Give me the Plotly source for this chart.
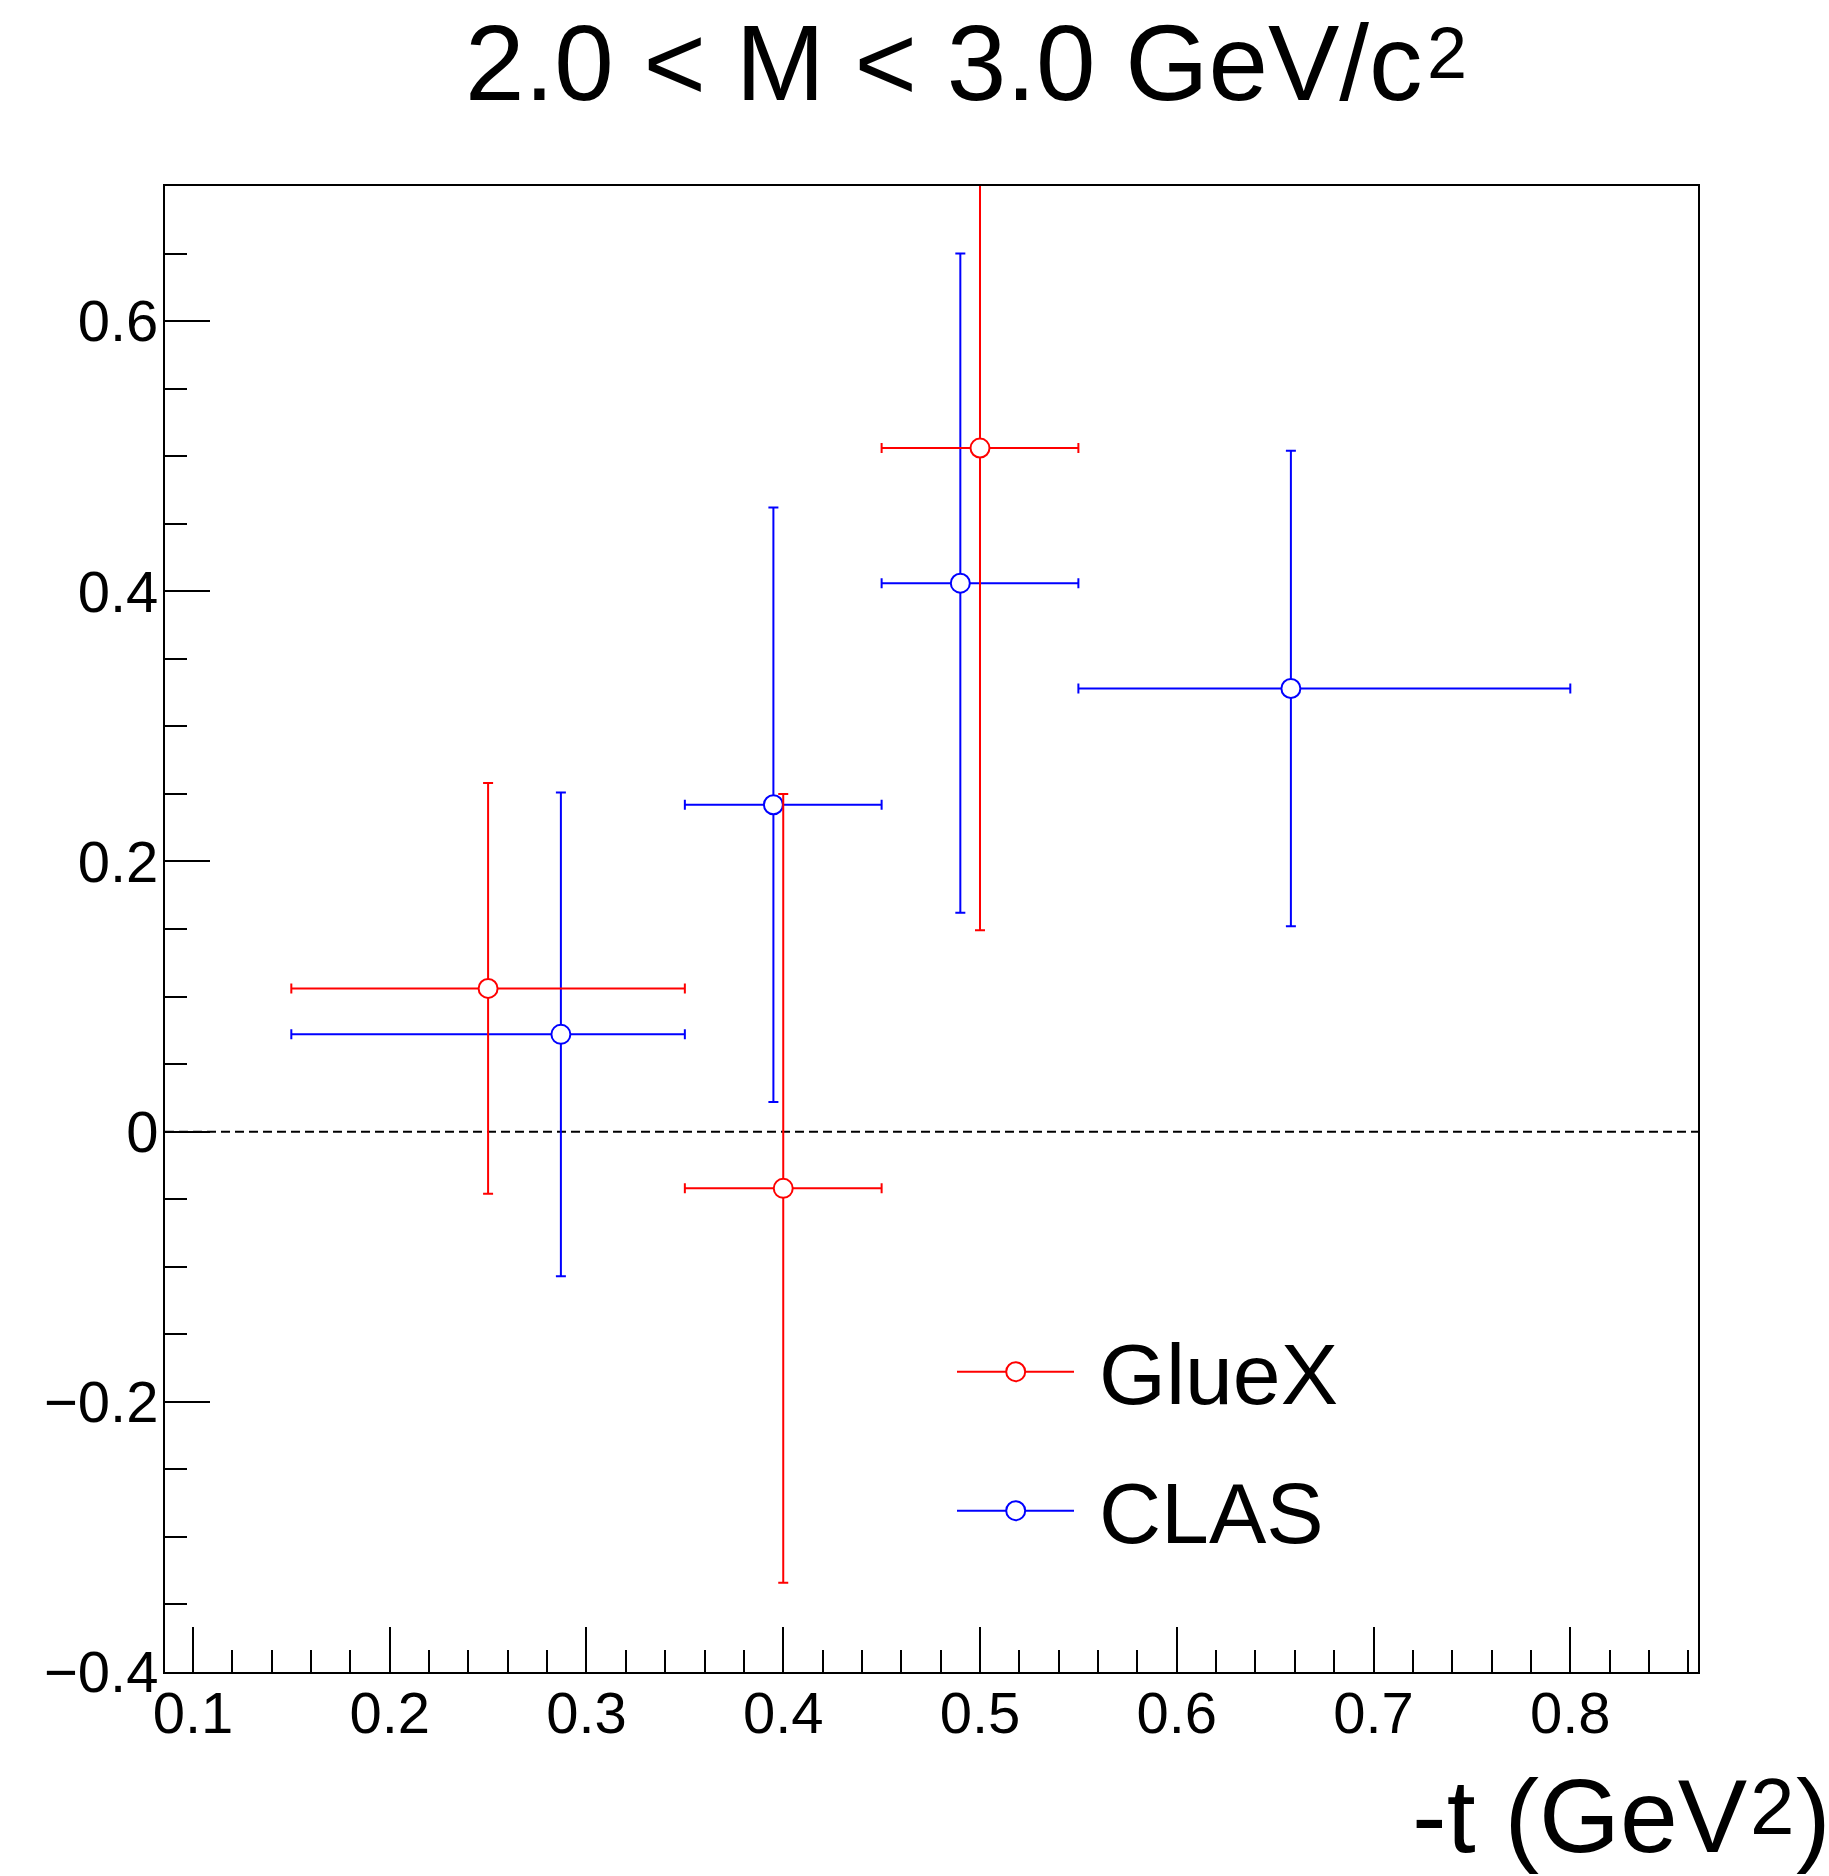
import plotly.graph_objects as go

# ---- data -------------------------------------------------------------
# GlueX: bin centres, bin edges and asymmetry values with statistical errors
gluex_t = [0.25, 0.40, 0.50]
gluex_t_lo = [0.15, 0.35, 0.45]
gluex_t_hi = [0.35, 0.45, 0.55]
gluex_val = [0.106, -0.042, 0.506]
gluex_err = [0.152, 0.292, 0.357]

# CLAS: mean -t inside each bin, bin edges, values and errors
clas_t = [0.287, 0.395, 0.490, 0.658]
clas_t_lo = [0.15, 0.35, 0.45, 0.55]
clas_t_hi = [0.35, 0.45, 0.55, 0.80]
clas_val = [0.072, 0.242, 0.406, 0.328]
clas_err = [0.179, 0.220, 0.244, 0.176]

series_names = ["GlueX", "CLAS"]
series_colors = ["#ff0000", "#0000ff"]

x_range = [0.0858, 0.8649]
y_range = [-0.4, 0.7]
x_ticks = [0.1, 0.2, 0.3, 0.4, 0.5, 0.6, 0.7, 0.8]
y_ticks = [-0.4, -0.2, 0.0, 0.2, 0.4, 0.6]

# title and x-axis title, split so the exponent can be set as a large
# ROOT-style superscript whose top lines up with the capitals
title_main, title_exp = "2.0 < M < 3.0 GeV/c", "2"
xtitle_main, xtitle_exp, xtitle_close = "-t (GeV", "2", ")"

# ---- page geometry ----------------------------------------------------
W, H = 1829, 1876
ML, MR, MT, MB = 165, 131, 186, 204
PW, PH = W - ML - MR, H - MT - MB
FONT = "Liberation Sans, Arial, Helvetica, sans-serif"


def px(xp):
    return (xp - ML) / PW


def py(yp):
    return (H - MB - yp) / PH


def err_trace(t, lo, hi, val, err, color, name):
    return go.Scatter(
        x=t, y=val, mode="markers", name=name, showlegend=False,
        marker=dict(symbol="circle", size=19, color="white",
                    line=dict(color=color, width=2)),
        error_x=dict(type="data", symmetric=False,
                     array=[h - c for h, c in zip(hi, t)],
                     arrayminus=[c - l for c, l in zip(t, lo)],
                     color=color, thickness=2, width=5),
        error_y=dict(type="data", array=err, color=color,
                     thickness=2, width=5),
        cliponaxis=True,
    )


fig = go.Figure()
fig.add_trace(err_trace(clas_t, clas_t_lo, clas_t_hi, clas_val, clas_err,
                        series_colors[1], series_names[1]))
fig.add_trace(err_trace(gluex_t, gluex_t_lo, gluex_t_hi, gluex_val, gluex_err,
                        series_colors[0], series_names[0]))

shapes = []
# dashed zero line
shapes.append(dict(type="line", xref="paper", yref="y", x0=0, x1=1, y0=0, y1=0,
                   line=dict(color="black", width=2, dash="9px,5px"),
                   layer="below"))

# hand-drawn legend: line + open circle + label
legend_rows = [1371.7, 1510.7]
for name, color, yrow in zip(series_names, series_colors, legend_rows):
    shapes.append(dict(type="line", xref="paper", yref="paper",
                       x0=px(957), x1=px(1074), y0=py(yrow), y1=py(yrow),
                       line=dict(color=color, width=2)))
    shapes.append(dict(type="circle", xref="paper", yref="paper",
                       xsizemode="pixel", ysizemode="pixel",
                       xanchor=px(1015.7), yanchor=py(yrow),
                       x0=-9.5, x1=9.5, y0=-9.5, y1=9.5,
                       fillcolor="white", line=dict(color=color, width=2)))


def label(text, x, y, size, xanchor):
    return dict(text=text, xref="paper", yref="paper", x=px(x), y=py(y),
                xanchor=xanchor, yanchor="middle", showarrow=False,
                borderpad=0,
                font=dict(family=FONT, size=size, color="black"))


annotations = []
for name, yrow in zip(series_names, legend_rows):
    annotations.append(label(name, 1098, yrow + 2, 86, "left"))

# plot title
annotations.append(label(title_main, 1424, 63, 107, "right"))
annotations.append(label(title_exp, 1426, 53, 72, "left"))

# x-axis title, bottom right
annotations.append(label(xtitle_main, 1748, 1816, 104, "right"))
annotations.append(label(xtitle_exp, 1749, 1806, 80, "left"))
annotations.append(label(xtitle_close, 1795, 1816, 104, "left"))

axis_common = dict(
    showline=True, linecolor="black", linewidth=2, mirror=True,
    ticks="inside", tickcolor="black", tickwidth=2, ticklen=45,
    showgrid=False, zeroline=False,
    tickfont=dict(family=FONT, size=58, color="black"),
)

fig.update_layout(
    width=W, height=H,
    margin=dict(l=ML, r=MR, t=MT, b=MB, pad=0),
    paper_bgcolor="white", plot_bgcolor="white",
    showlegend=False,
    xaxis=dict(range=x_range, tickvals=x_ticks,
               ticktext=[f"{v:.1f}" for v in x_ticks],
               ticklabelstandoff=-11,
               minor=dict(dtick=0.02, tick0=0.0, ticks="inside", ticklen=22,
                          tickwidth=2, tickcolor="black", showgrid=False),
               **axis_common),
    yaxis=dict(range=y_range, tickvals=y_ticks,
               ticktext=["\u22120.4", "\u22120.2", "0", "0.2", "0.4", "0.6"],
               ticklabelstandoff=-7,
               minor=dict(dtick=0.05, tick0=0.0, ticks="inside", ticklen=22,
                          tickwidth=2, tickcolor="black", showgrid=False),
               **axis_common),
    shapes=shapes,
    annotations=annotations,
)

fig.write_html("out.html")
